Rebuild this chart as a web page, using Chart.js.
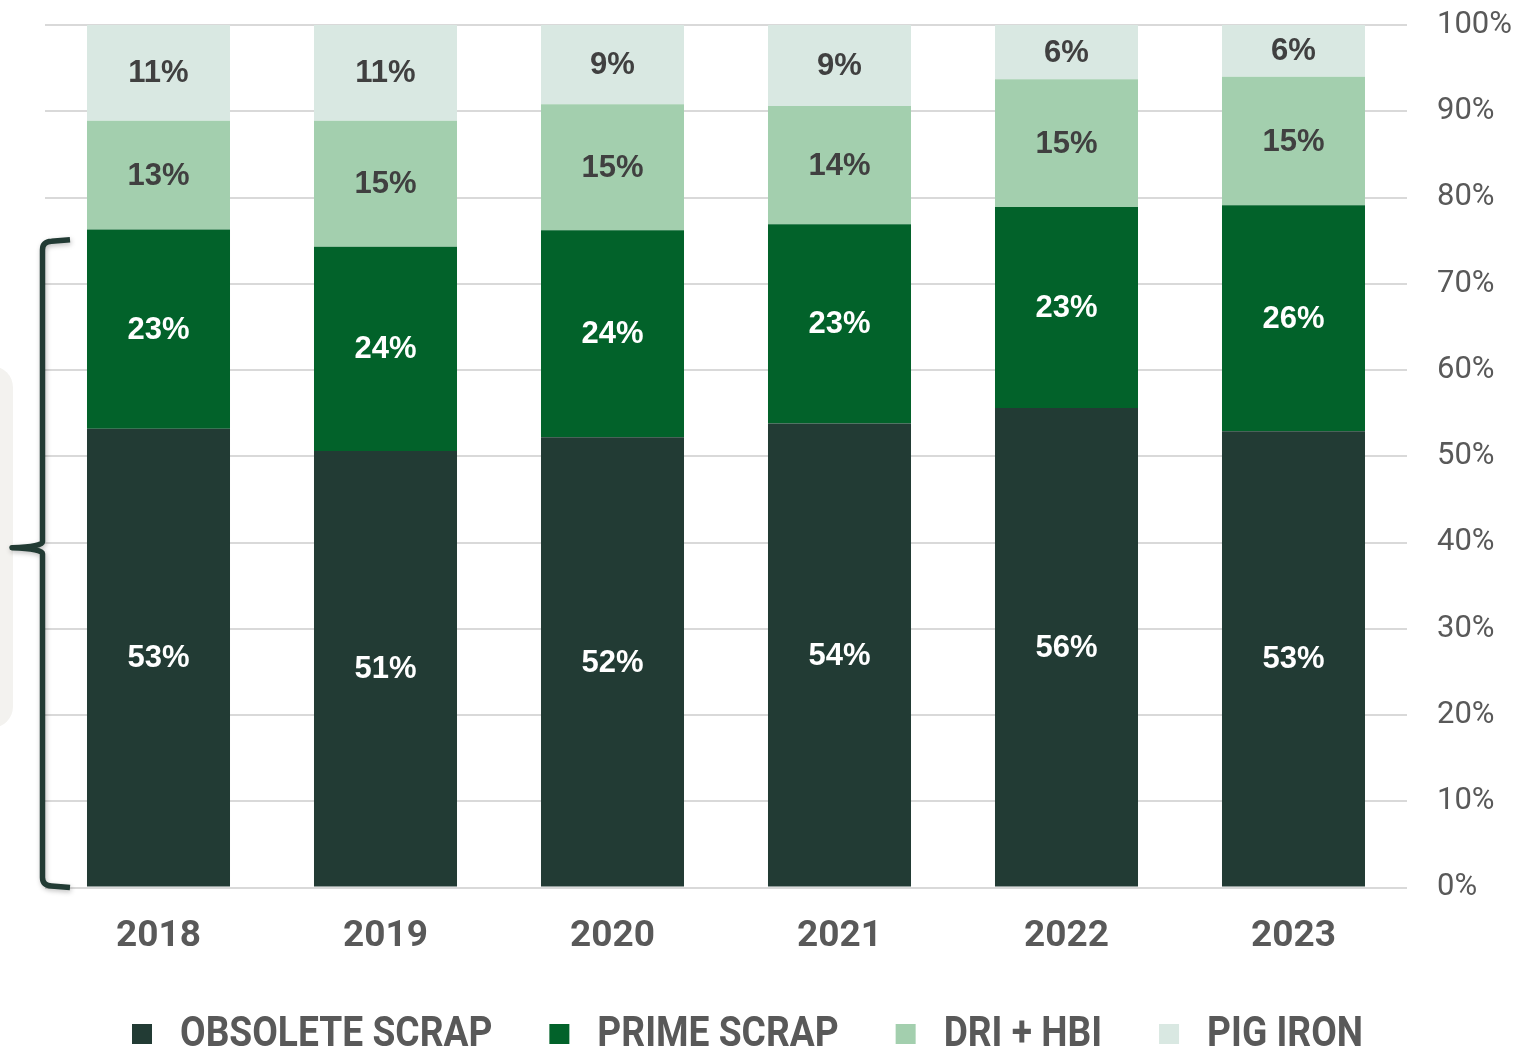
<!DOCTYPE html>
<html><head><meta charset="UTF-8">
<title>Metallics mix</title>
<script src="https://cdn.jsdelivr.net/npm/chart.js"></script>
<style>
html, body { margin: 0; padding: 0; background: #fff; overflow: hidden; }
.wrap { position: relative; width: 1515px; height: 1047px; }
</style>
</head>
<body>
<div class="wrap"><canvas id="mix"></canvas></div>
<script>
// share of each feed material per year (%)
const years = ['2018', '2019', '2020', '2021', '2022', '2023'];
const obsoleteScrap = [53.2, 50.6, 52.2, 53.8, 55.6, 52.9];
const primeScrap = [23.1, 23.7, 24.0, 23.1, 23.3, 26.2];
const driHbi = [12.6, 14.6, 14.6, 13.7, 14.8, 14.9];
const pigIron = [11.1, 11.1, 9.2, 9.4, 6.3, 6.0];
const yTicks = [0, 10, 20, 30, 40, 50, 60, 70, 80, 90, 100];

const series = [
  { label: 'OBSOLETE SCRAP', data: obsoleteScrap, color: '#223b34', text: '#ffffff' },
  { label: 'PRIME SCRAP', data: primeScrap, color: '#02622a', text: '#ffffff' },
  { label: 'DRI + HBI', data: driHbi, color: '#a3cfae', text: '#404040' },
  { label: 'PIG IRON', data: pigIron, color: '#d9e8e2', text: '#404040' }
];

// percentage labels in the middle of every segment
const segmentLabels = {
  id: 'segmentLabels',
  afterDatasetsDraw(chart) {
    const ctx = chart.ctx;
    ctx.save();
    ctx.font = 'bold 31px "Liberation Sans", Arial, sans-serif';
    ctx.textAlign = 'center';
    ctx.textBaseline = 'middle';
    chart.data.datasets.forEach((ds, i) => {
      chart.getDatasetMeta(i).data.forEach((bar, j) => {
        const mid = (bar.y + bar.base) / 2;
        ctx.fillStyle = series[i].text;
        ctx.fillText(Math.round(ds.data[j]) + '%', bar.x, mid + 1);
      });
    });
    ctx.restore();
  }
};

// grey tab and curly brace on the left edge
const leftBrace = {
  id: 'leftBrace',
  beforeDraw(chart) {
    const ctx = chart.ctx;
    ctx.save();
    ctx.fillStyle = '#f3f2ef';
    ctx.beginPath();
    ctx.roundRect(-30, 366, 43, 362, 22);
    ctx.fill();
    ctx.restore();
  },
  afterDraw(chart) {
    const ctx = chart.ctx;
    const y = chart.scales.y;
    const top = y.getPixelForValue(75);
    const bottom = y.getPixelForValue(0) - 1;
    const mid = y.getPixelForValue(39.4);
    const x = 42.5, r = 9;
    ctx.save();
    ctx.shadowColor = 'rgba(0,0,0,0.25)';
    ctx.shadowBlur = 5;
    ctx.shadowOffsetX = 1;
    ctx.shadowOffsetY = 2;
    ctx.strokeStyle = '#223b34';
    ctx.lineWidth = 5.5;
    ctx.lineCap = 'butt';
    ctx.lineJoin = 'round';
    ctx.beginPath();
    ctx.moveTo(70, top - 1);
    ctx.lineTo(x + r, top + 0.5);
    ctx.quadraticCurveTo(x, top + 1, x, top + r);
    ctx.lineTo(x, mid - 6);
    ctx.quadraticCurveTo(x, mid - 1, 12, mid);
    ctx.quadraticCurveTo(x, mid + 1, x, mid + 6);
    ctx.lineTo(x, bottom - r);
    ctx.quadraticCurveTo(x, bottom - 1, x + r, bottom - 0.5);
    ctx.lineTo(70, bottom + 1);
    ctx.stroke();
    ctx.restore();
  }
};

// legend row under the axis, narrow bold caps
const bottomLegend = {
  id: 'bottomLegend',
  afterDraw(chart) {
    const ctx = chart.ctx;
    const box = 20, gap = 28, spacing = 57, sx = 0.885;
    const cy = 1033;
    ctx.save();
    ctx.font = 'bold 42px Roboto';
    ctx.textBaseline = 'middle';
    const widths = series.map(s => ctx.measureText(s.label).width * sx);
    const total = widths.reduce((a, w) => a + box + gap + w, 0) + spacing * (series.length - 1);
    let x = chart.width / 2 - 10 - total / 2;
    series.forEach((s, i) => {
      ctx.fillStyle = s.color;
      ctx.fillRect(x, cy - box / 2 + 1, box, box);
      ctx.save();
      ctx.translate(x + box + gap, cy);
      ctx.scale(sx, 1);
      ctx.fillStyle = '#595959';
      ctx.fillText(s.label, 0, 2);
      ctx.restore();
      x += box + gap + widths[i] + spacing;
    });
    ctx.restore();
  }
};

new Chart(document.getElementById('mix'), {
  type: 'bar',
  data: {
    labels: years,
    datasets: series.map(s => ({
      label: s.label,
      data: s.data,
      backgroundColor: s.color,
      borderWidth: 0,
      barPercentage: 0.63,
      categoryPercentage: 1
    }))
  },
  options: {
    responsive: true,
    maintainAspectRatio: false,
    animation: false,
    layout: { padding: { left: 45, right: 0, top: 25, bottom: 61 } },
    scales: {
      x: {
        stacked: true,
        grid: { display: false, drawTicks: false },
        border: { display: false },
        ticks: {
          padding: 27,
          color: '#595959',
          font: { family: 'Roboto', size: 37, weight: 'bold' }
        }
      },
      y: {
        stacked: true,
        position: 'right',
        min: 0,
        max: 100,
        afterBuildTicks: axis => { axis.ticks = yTicks.map(v => ({ value: v })); },
        afterFit: axis => { axis.width = 108; },
        grid: {
          color: '#d9d9d9',
          lineWidth: 2,
          drawTicks: true,
          tickLength: 26,
          tickColor: 'rgba(0,0,0,0)'
        },
        border: { display: false },
        ticks: {
          padding: 4,
          color: '#595959',
          font: { family: 'Roboto', size: 31 },
          callback: v => v + '%'
        }
      }
    },
    plugins: {
      legend: { display: false },
      tooltip: { enabled: false }
    }
  },
  plugins: [segmentLabels, leftBrace, bottomLegend]
});
</script>
</body></html>
